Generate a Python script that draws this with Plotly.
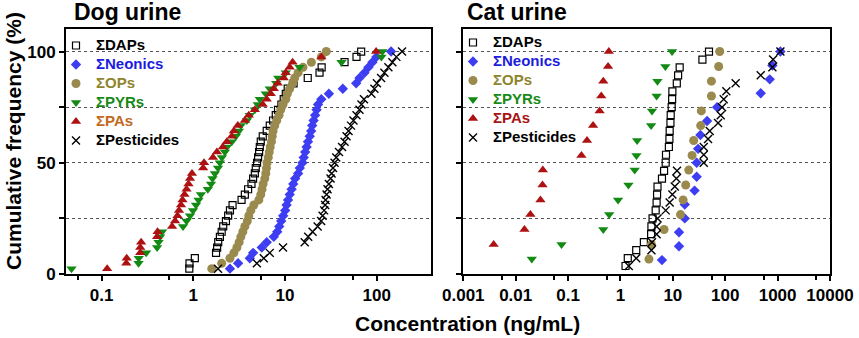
import plotly.graph_objects as go

# ---------------- data (concentrations in ng/mL, cumulative frequency in %) ----------------
DOG_CUM = [2.4, 4.8, 7.1, 9.5, 11.9, 14.3, 16.7, 19.0, 21.4, 23.8, 26.2, 28.6, 31.0, 33.3,
           35.7, 38.1, 40.5, 42.9, 45.2, 47.6, 50.0, 52.4, 54.8, 57.1, 59.5, 61.9, 64.3, 66.7,
           69.0, 71.4, 73.8, 76.2, 78.6, 81.0, 83.3, 85.7, 88.1, 90.5, 92.9, 95.2, 97.6, 100.0]

dog_daps = [0.905, 0.909, 1.04, 1.77, 1.82, 1.87, 1.95, 2.04, 2.12, 2.27, 2.40, 2.51, 2.68, 3.36,
            3.65, 3.96, 4.31, 4.49, 4.69, 4.80, 4.96, 5.09, 5.22, 5.31, 5.44, 5.72, 6.32, 6.82,
            7.41, 7.93, 8.39, 9.14, 9.68, 10.2, 10.7, 12.4, 17.7, 23.8, 25.1, 44.6, 60.2, 67.7]
dog_neonics = [2.51, 3.08, 4.13, 4.49, 5.58, 6.32, 7.54, 8.23, 8.65, 9.09, 9.56, 10.05, 10.4, 10.8,
               11.25, 11.8, 12.3, 12.9, 13.9, 14.5, 15.5, 16.0, 16.6, 17.2, 17.8, 18.6, 19.3, 19.8,
               20.5, 21.3, 22.1, 22.9, 24.9, 30.1, 42.7, 59.7, 64.9, 73.5, 81.2, 89.8, 99.2, 143.4]
dog_ops = [1.59, 2.04, 2.51, 2.77, 2.99, 3.16, 3.30, 3.47, 3.65, 3.88, 4.03, 4.24, 4.57, 5.18,
           5.44, 5.62, 5.77, 6.02, 6.17, 6.28, 6.37, 6.57, 6.73, 6.90, 7.12, 7.26, 7.41, 7.73,
           8.12, 8.61, 8.98, 9.51, 10.2, 10.6, 11.25, 12.1, 12.75, 13.9, 15.7, 19.4, 24.9, 28.2]
dog_pyrs = [0.047, 0.253, 0.254, 0.306, 0.403, 0.418, 0.435, 0.457, 0.773, 0.844, 0.921, 0.992,
            1.07, 1.14, 1.21, 1.44, 1.56, 1.62, 1.72, 1.86, 1.95, 2.05, 2.21, 2.33, 2.63, 2.91,
            3.14, 3.30, 3.84, 4.13, 4.69, 5.05, 5.31, 6.17, 6.82, 8.02, 8.44, 10.2, 14.4, 41.3,
            112.5, 115.3]
dog_pas = [0.115, 0.186, 0.188, 0.264, 0.264, 0.270, 0.403, 0.408, 0.587, 0.633, 0.673, 0.699,
           0.735, 0.763, 0.802, 0.844, 0.887, 0.921, 0.968, 1.28, 1.31, 1.64, 1.81, 2.10, 2.32,
           2.63, 2.77, 3.06, 3.65, 4.03, 4.69, 5.72, 6.32, 6.99, 7.54, 8.33, 9.68, 10.2, 11.25,
           12.1, 24.9, 98.5]
dog_pest = [1.86, 4.93, 5.87, 6.82, 9.51, 16.4, 17.9, 20.0, 22.7, 24.8, 25.7, 26.7, 27.4, 27.7,
            28.4, 29.1, 30.1, 31.4, 32.2, 33.4, 34.7, 36.2, 38.8, 41.9, 44.6, 46.9, 49.3, 52.5,
            55.8, 60.2, 64.9, 68.2, 72.6, 87.6, 94.4, 100.5, 111.6, 121.3, 134.1, 148.2, 163.8,
            188.9]

CAT_CUM_15 = [6.7, 13.3, 20.0, 26.7, 33.3, 40.0, 46.7, 53.3, 60.0, 66.7, 73.3, 80.0, 86.7, 93.3, 100.0]
CAT_CUM_28 = [3.6, 7.1, 10.7, 14.3, 17.9, 21.4, 25.0, 28.6, 32.1, 35.7, 39.3, 42.9, 46.4, 50.0,
              53.6, 57.1, 60.7, 64.3, 67.9, 71.4, 75.0, 78.6, 82.1, 85.7, 89.3, 92.9, 96.4, 100.0]
CAT_CUM_16 = [6.25, 12.5, 18.75, 25.0, 31.25, 37.5, 43.75, 50.0, 56.25, 62.5, 68.75, 75.0,
              81.25, 87.5, 93.75, 100.0]
CAT_CUM_PAS = [13.3, 20.0, 26.7, 33.3, 40.0, 46.7, 53.3, 60.0, 66.7, 73.3, 80.0, 86.7, 93.3, 100.0]

cat_daps = [1.25, 1.38, 2.0, 2.8, 3.85, 3.9, 4.1, 4.7, 4.9, 5.0, 5.1, 6.2, 6.8, 7.3, 7.4, 8.4,
            8.6, 8.7, 9.0, 9.1, 9.5, 9.7, 9.8, 11.9, 12.6, 13.5, 36.7, 49.0]
cat_neonics = [6.2, 13.1, 13.1, 16.9, 16.9, 26.0, 28.5, 28.5, 30.3, 33.6, 45.0, 69.8, 476,
               707, 795, 1130]
cat_ops = [3.5, 3.9, 6.8, 14.0, 15.7, 17.6, 20.1, 23.3, 25.0, 34.0, 35.0, 54.5, 54.5, 75.0, 78.5]
cat_pyrs = [0.0203, 0.075, 0.47, 0.61, 0.90, 1.42, 1.87, 2.02, 2.08, 3.85, 4.0, 4.9, 5.08, 7.2, 9.66]
cat_pas = [0.0038, 0.0147, 0.0191, 0.0297, 0.0325, 0.0330, 0.18, 0.23, 0.30, 0.40, 0.43, 0.47,
           0.58, 0.60]
cat_pest = [1.44, 2.0, 3.9, 4.0, 4.9, 4.9, 5.1, 7.3, 8.7, 9.8, 10.9, 11.7, 12.0, 38.9, 38.9,
            38.9, 47.0, 50.6, 73.0, 82.0, 87.0, 93.6, 105, 158, 476, 795, 819, 1130]

DOG_TICKS = [0.1, 1, 10, 100]
DOG_TICKTEXT = ["0.1", "1", "10", "100"]
DOG_MINOR = [0.055, 0.55, 5.5, 55]
CAT_TICKS = [0.001, 0.01, 0.1, 1, 10, 100, 1000, 10000]
CAT_TICKTEXT = ["0.001", "0.01", "0.1", "1", "10", "100", "1000", "10000"]
CAT_MINOR = [0.0055, 0.055, 0.55, 5.5, 55, 550, 5500]
Y_TICKS = [0, 25, 50, 75, 100]
Y_TICKTEXT = ["0", "", "50", "", "100"]

# ---------------- styles ----------------
FONT = "Arial, Liberation Sans, sans-serif"
styles = {
    "DAPs": dict(symbol="square-open", size=7, color="black", line=dict(color="black", width=1.2)),
    "Neonics": dict(symbol="diamond", size=8, color="#3d3df2", line=dict(width=0)),
    "OPs": dict(symbol="circle", size=9, color="#9a8a4e", line=dict(width=0)),
    "PYRs": dict(symbol="triangle-down", size=9, color="#138a13", line=dict(width=0)),
    "PAs": dict(symbol="triangle-up", size=9, color="#ad1111", line=dict(width=0)),
    "Pesticides": dict(symbol="x-thin-open", size=8, color="black", line=dict(color="black", width=1.4)),
}
dog_label_colors = {"DAPs": "black", "Neonics": "#1c1ce0", "OPs": "#8f842c", "PYRs": "#178a17",
                    "PAs": "#c26a22", "Pesticides": "black"}
cat_label_colors = {"DAPs": "black", "Neonics": "#1c1ce0", "OPs": "#8f842c", "PYRs": "#178a17",
                    "PAs": "#a81414", "Pesticides": "black"}

def label(key, color):
    return f"<span style='color:{color};font-size:15px'>Σ{key}</span>"

fig = go.Figure()

dog_series = [("DAPs", dog_daps), ("Neonics", dog_neonics), ("OPs", dog_ops),
              ("PYRs", dog_pyrs), ("PAs", dog_pas), ("Pesticides", dog_pest)]
for key, vals in dog_series:
    fig.add_trace(go.Scatter(
        x=vals, y=DOG_CUM[:len(vals)], mode="markers", xaxis="x", yaxis="y",
        name=label(key, dog_label_colors[key]),
        marker=styles[key], cliponaxis=False, legend="legend"))

cat_series = [("DAPs", cat_daps, CAT_CUM_28), ("Neonics", cat_neonics, CAT_CUM_16),
              ("OPs", cat_ops, CAT_CUM_15), ("PYRs", cat_pyrs, CAT_CUM_15),
              ("PAs", cat_pas, CAT_CUM_PAS), ("Pesticides", cat_pest, CAT_CUM_28)]
for key, vals, cum in cat_series:
    fig.add_trace(go.Scatter(
        x=vals, y=cum, mode="markers", xaxis="x2", yaxis="y2",
        name=label(key, cat_label_colors[key]),
        marker=styles[key], cliponaxis=False, legend="legend2"))

W, H = 859, 338
def px_x(v):
    return v / W
def px_y(v):
    return 1 - v / H

tickfont = dict(family=FONT, size=17, color="black", weight="bold")
common_x = dict(type="log", showgrid=False, zeroline=False, showline=True, linewidth=2,
                linecolor="black", mirror=True, ticks="outside", ticklen=5, tickwidth=1.5,
                tickcolor="black", tickfont=tickfont, tickmode="array", automargin=False)
common_y = dict(range=[0, 110], showgrid=True, gridcolor="#555", griddash="dot", gridwidth=1,
                zeroline=False, showline=True, linewidth=2, linecolor="black", mirror=True,
                ticks="outside", ticklen=5, tickwidth=1.5, tickcolor="black", automargin=False,
                tickmode="array", tickvals=Y_TICKS, tickfont=tickfont)

legend_common = dict(xanchor="left", yanchor="top", bgcolor="rgba(0,0,0,0)",
                     font=dict(family=FONT, size=12, weight="bold"),
                     tracegroupgap=0, itemwidth=30)

fig.update_layout(
    width=W, height=H, margin=dict(l=0, r=0, t=0, b=0, autoexpand=False),
    paper_bgcolor="white", plot_bgcolor="white",
    font=dict(family=FONT, color="black"),
    xaxis=dict(common_x, domain=[px_x(66), px_x(431)], range=[-1.388, 2.592],
               tickvals=DOG_TICKS, ticktext=DOG_TICKTEXT, anchor="y",
               minor=dict(tickmode="array", tickvals=DOG_MINOR, ticks="outside", ticklen=4,
                          tickwidth=1.5, tickcolor="black")),
    yaxis=dict(common_y, domain=[px_y(274), px_y(29.3)], ticktext=Y_TICKTEXT, anchor="x"),
    xaxis2=dict(common_x, domain=[px_x(463.3), px_x(830)], range=[-3, 4],
                tickvals=CAT_TICKS, ticktext=CAT_TICKTEXT, anchor="y2",
                minor=dict(tickmode="array", tickvals=CAT_MINOR, ticks="outside", ticklen=4,
                           tickwidth=1.5, tickcolor="black")),
    yaxis2=dict(common_y, domain=[px_y(274), px_y(29.3)], showticklabels=False, anchor="x2"),
    legend=dict(legend_common, x=px_x(56), y=px_y(31)),
    legend2=dict(legend_common, x=px_x(453), y=px_y(28)),
    showlegend=True,
)

ann_font = dict(family=FONT, color="black")
fig.add_annotation(text="<b>Dog urine</b>", x=px_x(72), y=px_y(12), xref="paper", yref="paper",
                   xanchor="left", yanchor="middle", showarrow=False, font=dict(ann_font, size=23))
fig.add_annotation(text="<b>Cat urine</b>", x=px_x(465), y=px_y(12), xref="paper", yref="paper",
                   xanchor="left", yanchor="middle", showarrow=False, font=dict(ann_font, size=23))
fig.add_annotation(text="<b>Concentration (ng/mL)</b>", x=px_x(467), y=px_y(323), xref="paper",
                   yref="paper", xanchor="center", yanchor="middle", showarrow=False,
                   font=dict(ann_font, size=21))
fig.add_annotation(text="<b>Cumulative frequency (%)</b>", x=px_x(13), y=px_y(141), xref="paper",
                   yref="paper", xanchor="center", yanchor="middle", showarrow=False,
                   textangle=-90, font=dict(ann_font, size=21))

fig.write_html("out.html", config={"displayModeBar": False},
               post_script="document.body.style.margin='0px';")
